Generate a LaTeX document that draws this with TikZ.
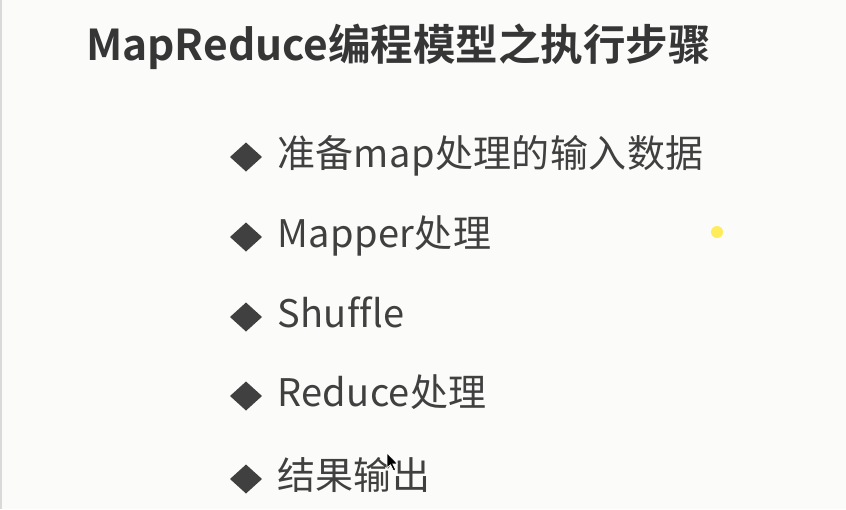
\documentclass[tikz,border=0pt]{standalone}
\usepackage{fontspec}
\setmainfont[Ligatures=NoCommon]{Noto Sans CJK SC}
\newfontfamily\cjkbold[Ligatures=NoCommon]{Noto Sans CJK SC Bold}
\definecolor{bgc}{HTML}{FBFBF9}
\definecolor{titlec}{HTML}{363636}
\definecolor{itemc}{HTML}{404040}
\definecolor{dotc}{HTML}{FFEC5A}
\begin{document}
\begin{tikzpicture}[x=1pt,y=-1pt,
  itemtext/.style={anchor=base west,inner sep=0pt,text=itemc,font=\addfontfeatures{LetterSpace=1.0}\fontsize{38}{40}\selectfont},
  bullet/.style={fill=itemc,draw=none},
  titletext/.style={anchor=base west,inner sep=0pt,text=titlec,font=\cjkbold\fontsize{42.5}{44}\selectfont}]
\fill[bgc] (0,0) rectangle (846,509);
\useasboundingbox (0,0) rectangle (846,509);
\draw[gray!30,line width=1.5pt] (0.75,0) -- (0.75,509);
\node[titletext] (title) at (86,60) {MapReduce编程模型之执行步骤};
\foreach \i/\cy/\t in {1/157/准备map处理的输入数据,2/237/Mapper处理,3/317/Shuffle,4/396/Reduce处理,5/479/结果输出}{
  \fill[bullet] (246,\cy-14.5) -- (262,\cy) -- (246,\cy+14.5) -- (230,\cy) -- cycle;
  \node[itemtext] (item\i) at (277,\cy+10) {\t};
}
\fill[dotc] (717,232) circle (6);
\coordinate (cur) at (387,453);
\filldraw[fill=black,draw=white,line width=0.6pt] (cur) -- ++(0,15) -- ++(3.5,-3.3) -- ++(3,6) -- ++(2.2,-1) -- ++(-3,-5.8) -- ++(4.8,0) -- cycle;
\end{tikzpicture}
\end{document}
